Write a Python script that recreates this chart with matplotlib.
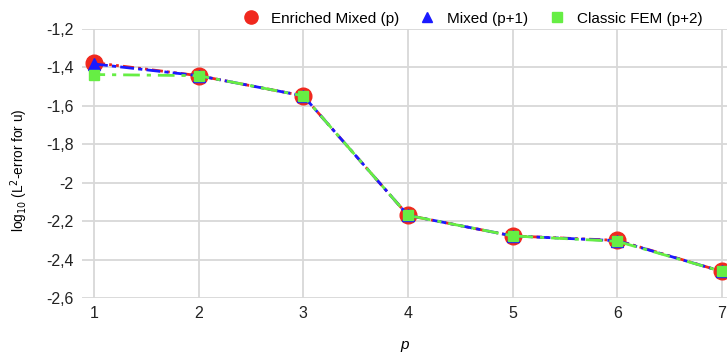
import matplotlib
matplotlib.use("Agg")
import matplotlib.pyplot as plt
from matplotlib.ticker import FuncFormatter

plt.rcParams['font.family'] = ['Liberation Sans', 'DejaVu Sans']

p = [1, 2, 3, 4, 5, 6, 7]
enriched = [-1.375, -1.443, -1.548, -2.170, -2.277, -2.300, -2.462]
mixed = [-1.382, -1.443, -1.548, -2.170, -2.277, -2.302, -2.462]
classic = [-1.437, -1.443, -1.548, -2.170, -2.277, -2.305, -2.462]
yticks = [-2.6, -2.4, -2.2, -2.0, -1.8, -1.6, -1.4, -1.2]

fig = plt.figure(figsize=(7.27, 3.53), dpi=100)
ax = fig.add_axes([82/727, 1-298/353, 1-82/727, (298-29)/353])

ax.plot(p, enriched, color='#f0281e', linestyle=(0, (4, 1.5, 1, 1.5, 1, 1.5)), lw=2,
        marker='o', markersize=12, label='Enriched Mixed (p)', clip_on=False, zorder=3)
ax.plot(p, mixed, color='#1a1aff', linestyle=(0, (5, 1.5, 1.5, 1.5)), lw=2,
        marker='^', markersize=8, label='Mixed (p+1)', clip_on=False, zorder=4)
ax.plot(p, classic, color='#66ee44', linestyle=(2, (6, 2.5, 1.5, 2.5)), lw=2,
        marker='s', markersize=6.5, label='Classic FEM (p+2)', clip_on=False, zorder=5)

ax.set_xlim(1 - 12/104.6, 7 + 5/104.6)
ax.set_ylim(-2.6, -1.2)
ax.set_xticks(p)
ax.set_yticks(yticks)
ax.yaxis.set_major_formatter(FuncFormatter(lambda v, _: ('%g' % round(v, 1)).replace('.', ',')))
ax.grid(True, color='#d8d8d8', lw=1.3)
for s in ax.spines.values():
    s.set_visible(False)
ax.tick_params(length=0, labelsize=11.5, colors='#222222', pad=6)
ax.tick_params(axis='y', pad=6)
ax.set_xlabel('p', fontstyle='italic', fontsize=11, labelpad=12)
ax.set_ylabel('log$_{10}$ (L$^2$-error for u)', fontsize=9.8)
ax.yaxis.set_label_coords(-0.080, 0.476)

leg = ax.legend(loc='lower right', bbox_to_anchor=(0.971, 0.99), ncol=3, frameon=False,
                fontsize=11, handlelength=1.2, columnspacing=1.25, handletextpad=0.7,
                borderaxespad=0)
sizes = [9.5, 7.5, 6.5]
for h, ms in zip(leg.legend_handles, sizes):
    h.set_linestyle('None')
    h.set_markersize(ms)

fig.savefig('out.png', dpi=100)
